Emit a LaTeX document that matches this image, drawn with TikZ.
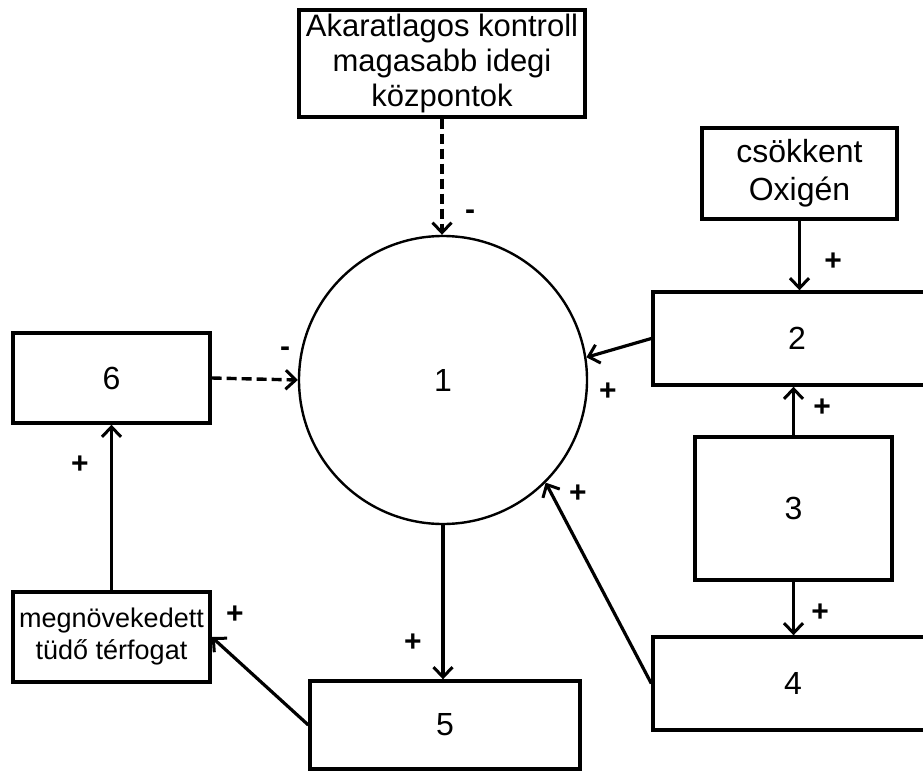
\documentclass[tikz,border=0pt]{standalone}
\usepackage{fontspec}
\setmainfont{Liberation Sans}
\usepackage{tikz}
\usetikzlibrary{arrows.meta}
\tikzset{%
  every box/.style={
    rectangle,
    draw,
    line width=3.4pt,
    inner sep=0pt,
    align=center,
    font=\fontsize{32}{36}\selectfont
  },
  every sign/.style={
    inner sep=0pt,
    font=\bfseries\fontsize{30}{30}\selectfont
  },
  link/.style={line width=3.2pt, ->},
  inhibit/.style={line width=3.4pt, ->, dash pattern=on 10pt off 5pt},
}

\begin{document}
\begin{tikzpicture}[x=1pt, y=-1pt, > = {Straight Barb[length=10pt, width=19pt, line width=3pt]}]
\useasboundingbox (0,0) rectangle (923,773);
\clip (0,0) rectangle (923,773);
% boxes
\node[every box, minimum width=286, minimum height=107, font=\fontsize{31}{35}\selectfont] (ctrl) at (442,63.5) {Akaratlagos kontroll\\magasabb idegi\\központok};
\node[every box, minimum width=195, minimum height=91, font=\fontsize{32}{38}\selectfont] (oxy) at (799.5,173.5) {csökkent\\Oxigén};
\node[every box, minimum width=288, minimum height=93] (b2) at (797,338.5) {2};
\node[every box, minimum width=197, minimum height=143] (b3) at (793.5,508.5) {3};
\node[every box, minimum width=280, minimum height=93] (b4) at (793,683.5) {4};
\node[every box, minimum width=270, minimum height=88] (b5) at (445,725) {5};
\node[every box, minimum width=197, minimum height=90, font=\fontsize{27}{32}\selectfont] (lung) at (111.5,637) {megnövekedett\\tüdő térfogat};
\node[every box, minimum width=197, minimum height=90] (b6) at (111.5,378) {6};
\node[circle, draw, line width=2.4pt, minimum size=288, inner sep=0pt, font=\fontsize{32}{36}\selectfont] (c1) at (443,380) {1};
% connectors
\draw[inhibit] (ctrl.south) -- (ctrl.south |- c1.north);
\draw[link] (oxy.south) -- (oxy.south |- b2.north);
\draw[link] (b2.west) -- (c1.9);
\draw[link] (b3.north) -- (b3.north |- b2.south);
\draw[link] (b3.south) -- (b3.south |- b4.north);
\draw[link] (b4.west) -- (c1.-45);
\draw[link] (c1.south) -- (c1.south |- b5.north);
\draw[link] (b5.west) -- (lung.east);
\draw[link] (lung.north) -- (b6.south);
\draw[inhibit] (b6.east) -- (c1.west);
% signs
\foreach \name/\pos/\s in {s1/{470,215}/-, s2/{833,262}/+, s3/{608,392}/+, s4/{822,408}/+, s5/{820,613}/+,
                           s6/{578,494}/+, s7/{413,643}/+, s8/{235,615}/+, s9/{80,465}/+, s10/{285,352}/-}
    \node[every sign] (\name) at (\pos) {\s};
\end{tikzpicture}
\end{document}
